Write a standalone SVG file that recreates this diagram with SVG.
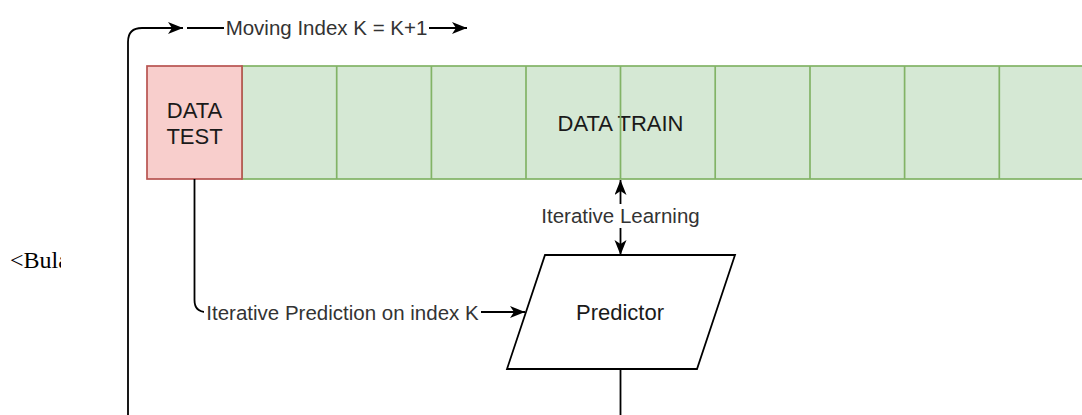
<svg xmlns="http://www.w3.org/2000/svg" width="1082" height="415" viewBox="0 0 1082 415">
<style>
.lbl{font-family:"Liberation Sans",Arial,sans-serif;font-size:22px;fill:#1a1a1a;text-anchor:middle}
.elbl{font-family:"Liberation Sans",Arial,sans-serif;font-size:20.5px;fill:#333;text-anchor:middle}
.edge{fill:none;stroke:#000;stroke-width:1.8}
.cell{fill:#d5e8d4;stroke:#82b366;stroke-width:1.7}
.div{stroke:#82b366;stroke-width:1.7}
</style>
<defs>
<marker id="arr" markerUnits="userSpaceOnUse" markerWidth="18" markerHeight="14" refX="15" refY="6" orient="auto-start-reverse">
<path d="M0,0 L15,6 L0,12 L4,6 Z" fill="#000"/>
</marker>
<clipPath id="clipBul"><rect x="0" y="230" width="61" height="50"/></clipPath>
</defs>
<rect width="1082" height="415" fill="#fff"/>
<g id="bul-text" clip-path="url(#clipBul)">
<text x="10" y="268" font-family="'Liberation Serif','Times New Roman',serif" font-size="24" fill="#000">&lt;Bula</text>
</g>
<g id="data-train">
<rect class="cell" x="242" y="66" width="860" height="113"/>
<text class="lbl" x="620.5" y="131">DATA TRAIN</text>
<line class="div" x1="336.7" y1="66" x2="336.7" y2="179"/>
<line class="div" x1="431.4" y1="66" x2="431.4" y2="179"/>
<line class="div" x1="526" y1="66" x2="526" y2="179"/>
<line class="div" x1="620.5" y1="66" x2="620.5" y2="179"/>
<line class="div" x1="715.2" y1="66" x2="715.2" y2="179"/>
<line class="div" x1="810" y1="66" x2="810" y2="179"/>
<line class="div" x1="904.6" y1="66" x2="904.6" y2="179"/>
<line class="div" x1="999.3" y1="66" x2="999.3" y2="179"/>
</g>
<g id="data-test">
<rect x="147" y="66" width="95" height="113" fill="#f8cecc" stroke="#b85450" stroke-width="1.7"/>
<text class="lbl" x="194.5" y="118">DATA</text>
<text class="lbl" x="194.5" y="144">TEST</text>
</g>
<g id="predictor">
<polygon points="545,255 735,255 697,369 507,369" fill="#fff" stroke="#000" stroke-width="1.8"/>
<text class="lbl" x="620" y="320">Predictor</text>
</g>
<g id="connectors">
<path class="edge" d="M128,415 V42 Q128,28 142,28 H183" marker-end="url(#arr)"/>
<path class="edge" d="M187,28 H467" marker-end="url(#arr)"/>
<rect x="224" y="16" width="205" height="24" fill="#fff"/>
<text class="elbl" x="326.5" y="35">Moving Index K = K+1</text>
<path class="edge" d="M194.5,179 V300 Q194.5,312 206.5,312 H525" marker-end="url(#arr)"/>
<rect x="204" y="301" width="277" height="24" fill="#fff"/>
<text class="elbl" x="342.5" y="320">Iterative Prediction on index K</text>
<path class="edge" d="M620.5,180 V255" marker-start="url(#arr)" marker-end="url(#arr)"/>
<rect x="540" y="204" width="161" height="24" fill="#fff"/>
<text class="elbl" x="620.5" y="223">Iterative Learning</text>
<path class="edge" d="M620.5,369 V415"/>
</g>
</svg>
